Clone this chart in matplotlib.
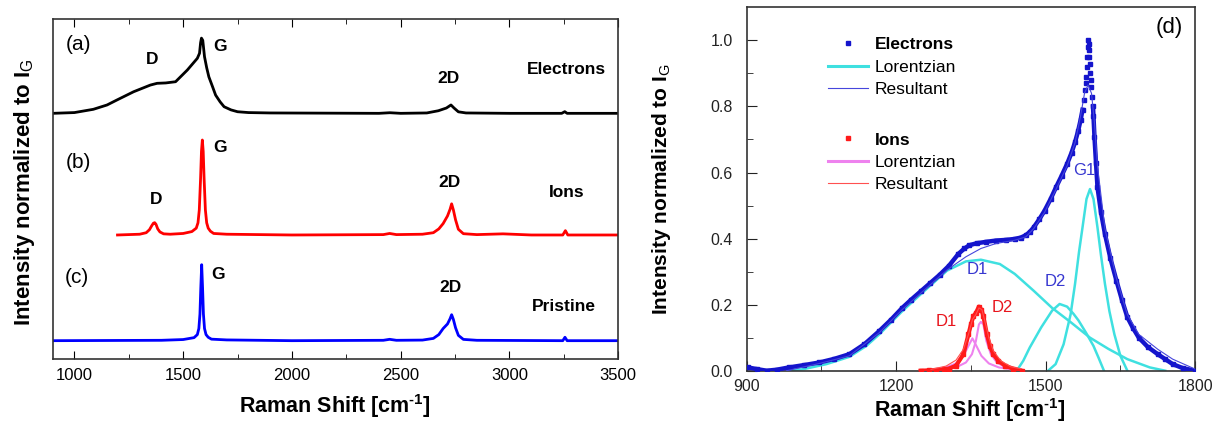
import numpy as np
import matplotlib
matplotlib.use("Agg")
import matplotlib.pyplot as plt
from matplotlib.lines import Line2D

plt.rcParams['font.family'] = ['Liberation Sans', 'DejaVu Sans']
plt.rcParams['mathtext.fontset'] = 'custom'
plt.rcParams['mathtext.rm'] = 'Liberation Sans'
plt.rcParams['mathtext.bf'] = 'Liberation Sans:bold'

# ---- panel (a)-(c): spectra, intensity relative to each baseline ----
ELEC_X = [900, 1000, 1087, 1150, 1195, 1272, 1349, 1380, 1420, 1465, 1519, 1565, 1575,
          1580, 1584, 1590, 1598, 1608, 1618, 1635, 1649, 1670, 1688, 1720, 1750, 1800,
          1900, 2400, 2450, 2500, 2620, 2673, 2710, 2731, 2745, 2765, 2800, 3000, 3240,
          3254, 3265, 3500]
ELEC_Y = [0.0, 0.01, 0.053, 0.11, 0.175, 0.284, 0.372, 0.395, 0.40, 0.416, 0.57, 0.724, 0.79,
          0.93, 0.99, 0.96, 0.745, 0.6, 0.48, 0.35, 0.24, 0.15, 0.087, 0.045, 0.021, 0.01,
          0.005, 0.0, 0.008, 0.0, 0.005, 0.034, 0.07, 0.11, 0.07, 0.02, 0.005, 0.0, 0.0,
          0.022, 0.0, 0.0]

IONS_X = [1198, 1300, 1330, 1345, 1355, 1363, 1369, 1375, 1383, 1393, 1410, 1440, 1500,
          1540, 1560, 1568, 1574, 1580, 1584, 1588, 1592, 1596, 1602, 1608, 1615, 1625,
          1640, 1700, 2000, 2420, 2449, 2480, 2600, 2650, 2675, 2695, 2715, 2727, 2734,
          2742, 2752, 2765, 2788, 2850, 2970, 3100, 3245, 3257, 3268, 3500]
IONS_Y = [0.0, 0.01, 0.03, 0.07, 0.12, 0.155, 0.162, 0.14, 0.08, 0.04, 0.015, 0.01, 0.02,
          0.045, 0.09, 0.16, 0.33, 0.75, 1.1, 1.25, 1.1, 0.75, 0.33, 0.16, 0.09, 0.05,
          0.02, 0.01, 0.0, 0.005, 0.02, 0.005, 0.01, 0.03, 0.08, 0.15, 0.25, 0.34, 0.41,
          0.33, 0.2, 0.075, 0.017, 0.005, 0.015, 0.0, 0.0, 0.057, 0.0, 0.0]

PRIS_X = [900, 1400, 1500, 1550, 1565, 1572, 1577, 1581, 1585, 1589, 1593, 1598, 1605,
          1615, 1630, 1700, 2000, 2420, 2449, 2480, 2600, 2650, 2675, 2695, 2715, 2727,
          2734, 2742, 2752, 2765, 2788, 2850, 3245, 3255, 3265, 3500]
PRIS_Y = [0.0, 0.005, 0.015, 0.04, 0.08, 0.16, 0.35, 0.7, 1.0, 0.7, 0.35, 0.16, 0.08,
          0.045, 0.02, 0.01, 0.0, 0.005, 0.018, 0.005, 0.008, 0.03, 0.08, 0.16, 0.22, 0.29,
          0.342, 0.28, 0.17, 0.07, 0.017, 0.005, 0.0, 0.045, 0.0, 0.0]

OFFSETS = [3.237, 1.636, 0.245]

# ---- panel (d): fitting of the D/G region ----
E_DATA_X = [902, 920, 940, 960, 985, 1015, 1046, 1076, 1106, 1136, 1166, 1190, 1212, 1230,
            1249, 1268, 1287, 1306, 1325, 1337, 1347, 1362, 1380, 1400, 1420, 1438, 1450,
            1460, 1468, 1476, 1487, 1498, 1510, 1521, 1532, 1543, 1552, 1559, 1565, 1570,
            1574, 1577, 1579, 1580, 1581, 1582, 1583, 1584, 1585, 1586, 1587, 1588, 1589,
            1590, 1591, 1592, 1593, 1595, 1596, 1598, 1601, 1604, 1611, 1619, 1630, 1642,
            1653, 1664, 1675, 1687, 1705, 1725, 1740, 1755, 1775, 1800]
E_DATA_Y = [0.01, 0.005, 0.0, 0.003, 0.01, 0.017, 0.025, 0.036, 0.05, 0.08, 0.12, 0.155,
            0.19, 0.215, 0.24, 0.265, 0.29, 0.318, 0.354, 0.37, 0.38, 0.386, 0.39, 0.394,
            0.396, 0.399, 0.403, 0.41, 0.42, 0.434, 0.458, 0.485, 0.52, 0.556, 0.59, 0.626,
            0.66, 0.692, 0.725, 0.758, 0.79, 0.82, 0.85, 0.87, 0.89, 0.92, 0.95, 0.98, 1.0,
            0.99, 0.97, 0.95, 0.93, 0.9, 0.88, 0.86, 0.83, 0.8, 0.77, 0.707, 0.63, 0.556,
            0.48, 0.414, 0.34, 0.273, 0.215, 0.162, 0.13, 0.10, 0.072, 0.05, 0.035, 0.02,
            0.008, 0.0]

E_D1_X = [985, 1015, 1060, 1106, 1140, 1166, 1212, 1257, 1302, 1340, 1370, 1408, 1438,
          1476, 1513, 1551, 1589, 1626, 1664, 1709, 1740]
E_D1_Y = [0.0, 0.005, 0.02, 0.042, 0.075, 0.11, 0.18, 0.242, 0.303, 0.331, 0.336, 0.323,
          0.293, 0.242, 0.19, 0.146, 0.10, 0.066, 0.035, 0.01, 0.0]
E_D2_X = [1442, 1455, 1468, 1491, 1513, 1528, 1543, 1556, 1566, 1581, 1596, 1606, 1617]
E_D2_Y = [0.0, 0.03, 0.07, 0.131, 0.182, 0.202, 0.194, 0.172, 0.152, 0.115, 0.075, 0.04, 0.0]
E_G1_X = [1505, 1520, 1536, 1550, 1559, 1567, 1574, 1582, 1589, 1596, 1604, 1611, 1619,
          1628, 1638, 1650, 1664]
E_G1_Y = [0.0, 0.02, 0.08, 0.17, 0.263, 0.36, 0.434, 0.52, 0.55, 0.52, 0.434, 0.35, 0.263,
          0.18, 0.11, 0.045, 0.0]
E_SUM_X = [980, 1046, 1106, 1166, 1212, 1257, 1302, 1340, 1370, 1400, 1438, 1460, 1476,
           1498, 1521, 1543, 1559, 1570, 1578, 1585, 1592, 1598, 1604, 1619, 1642, 1664,
           1687, 1725, 1755, 1800]
E_SUM_Y = [0.0, 0.022, 0.045, 0.115, 0.185, 0.245, 0.305, 0.345, 0.37, 0.385, 0.395, 0.405,
           0.43, 0.48, 0.55, 0.62, 0.69, 0.77, 0.84, 0.865, 0.84, 0.75, 0.62, 0.43, 0.28,
           0.17, 0.11, 0.065, 0.035, 0.005]

I_DATA_X = [1249, 1265, 1280, 1295, 1305, 1320, 1335, 1345, 1350, 1355, 1360, 1366, 1371,
            1375, 1382, 1388, 1395, 1405, 1419, 1435, 1452]
I_DATA_Y = [0.0, 0.001, 0.002, 0.004, 0.006, 0.015, 0.05, 0.11, 0.14, 0.165, 0.175, 0.194,
            0.185, 0.165, 0.11, 0.075, 0.05, 0.03, 0.015, 0.006, 0.0]
I_D1_X = [1270, 1300, 1320, 1335, 1345, 1353, 1361, 1371, 1386, 1406, 1436]
I_D1_Y = [0.003, 0.01, 0.022, 0.045, 0.075, 0.098, 0.075, 0.045, 0.022, 0.01, 0.003]
I_D2_X = [1290, 1320, 1340, 1352, 1360, 1366, 1370, 1375, 1381, 1390, 1402, 1420, 1450]
I_D2_Y = [0.004, 0.01, 0.025, 0.05, 0.09, 0.14, 0.148, 0.14, 0.09, 0.05, 0.025, 0.01, 0.004]
I_SUM_X = [1270, 1300, 1320, 1335, 1345, 1353, 1360, 1366, 1372, 1378, 1386, 1395, 1410,
           1430, 1450]
I_SUM_Y = [0.004, 0.014, 0.032, 0.065, 0.11, 0.155, 0.17, 0.19, 0.185, 0.15, 0.1, 0.06,
           0.03, 0.012, 0.006]

XLABEL = 'Raman Shift [cm$^{\\bf \u2010 1}$]'
YLABEL = 'Intensity normalized to I$_{\\rm G}$'

fig = plt.figure(figsize=(12.25, 4.23), dpi=100)
ax1 = fig.add_axes([0.043, 0.1506, 0.4617, 0.8044])
ax2 = fig.add_axes([0.6096, 0.1236, 0.366, 0.859])

# ---------- left panel ----------
for xs, ys, off, col in [(ELEC_X, ELEC_Y, OFFSETS[0], 'black'),
                         (IONS_X, IONS_Y, OFFSETS[1], '#ff0000'),
                         (PRIS_X, PRIS_Y, OFFSETS[2], '#0000ff')]:
    ax1.plot(xs, np.array(ys) + off, color=col, lw=2.0, solid_joinstyle='round')

ax1.set_xlim(900, 3500)
ax1.set_ylim(0, 4.478)
ax1.set_xticks([1000, 1500, 2000, 2500, 3000, 3500])
ax1.set_xticks([1250, 1750, 2250, 2750, 3250], minor=True)
ax1.set_yticks([])
ax1.tick_params(axis='x', which='both', direction='in', top=True, labelsize=12, pad=6)
ax1.tick_params(axis='x', which='major', length=6)
ax1.tick_params(axis='x', which='minor', length=3.5)
for s in ax1.spines.values():
    s.set_color('#333333')
    s.set_linewidth(1.2)

bold = dict(fontsize=12.5, fontweight='bold', ha='center', va='center')
ax1.text(1017, 4.14, '(a)', fontsize=15, ha='center', va='center')
ax1.text(1358, 3.94, 'D', **bold)
ax1.text(1668, 4.11, 'G', **bold)
ax1.text(2720, 3.69, '2D', **bold)
ax1.text(3261, 3.82, 'Electrons', **bold)
ax1.text(1017, 2.59, '(b)', fontsize=15, ha='center', va='center')
ax1.text(1668, 2.79, 'G', **bold)
ax1.text(1377, 2.10, 'D', **bold)
ax1.text(2722, 2.33, '2D', **bold)
ax1.text(3264, 2.20, 'Ions', **bold)
ax1.text(1012, 1.08, '(c)', fontsize=15, ha='center', va='center')
ax1.text(1659, 1.12, 'G', **bold)
ax1.text(2730, 0.95, '2D', **bold)
ax1.text(3250, 0.69, 'Pristine', **bold)

ax1.set_xlabel(XLABEL, fontsize=15.5, fontweight='bold')
ax1.set_ylabel(YLABEL, fontsize=16, fontweight='bold')
ax1.xaxis.set_label_coords(0.499, -0.095)
ax1.yaxis.set_label_coords(-0.027, 0.49)

# ---------- right panel ----------
ax2.plot(E_D1_X, E_D1_Y, color='#3fe0e0', lw=1.8, zorder=2)
ax2.plot(E_D2_X, E_D2_Y, color='#3fe0e0', lw=1.8, zorder=2)
ax2.plot(E_G1_X, E_G1_Y, color='#3fe0e0', lw=1.8, zorder=2)
ey = np.array(E_DATA_Y)
ax2.plot(E_DATA_X, np.where(ey > 0.8, np.nan, ey), color='#1414cc', lw=3.2, zorder=3)
ax2.plot(E_DATA_X, E_DATA_Y, ls='none', marker='s', ms=3, color='#1414cc',
         mec='#1414cc', zorder=3)
ax2.plot(E_SUM_X, E_SUM_Y, color='#4646dc', lw=0.8, zorder=4)

ax2.plot(I_D1_X, I_D1_Y, color='#ee82ee', lw=1.5, zorder=5)
ax2.plot(I_D2_X, I_D2_Y, color='#ee82ee', lw=1.5, zorder=5)
ax2.plot(I_DATA_X, I_DATA_Y, color='#ff1a1a', lw=3.0, zorder=6)
ax2.plot(I_DATA_X, I_DATA_Y, ls='none', marker='s', ms=2.6, color='#ff1a1a', zorder=6)
ax2.plot(I_SUM_X, I_SUM_Y, color='#ff5050', lw=0.8, zorder=7)

ax2.set_xlim(900, 1800)
ax2.set_ylim(0, 1.1)
ax2.set_xticks([900, 1200, 1500, 1800])
ax2.set_xticks([1050, 1350, 1650], minor=True)
ax2.set_yticks([0.0, 0.2, 0.4, 0.6, 0.8, 1.0])
ax2.set_yticks([0.1, 0.3, 0.5, 0.7, 0.9], minor=True)
ax2.set_yticklabels(['0.0', '0.2', '0.4', '0.6', '0.8', '1.0'])
ax2.tick_params(which='both', direction='in', labelsize=11.5, colors='#222222')
ax2.tick_params(axis='y', which='both', pad=10)
ax2.tick_params(axis='x', which='both', pad=6)
ax2.tick_params(which='major', length=7)
ax2.tick_params(which='minor', length=4)
for s in ax2.spines.values():
    s.set_color('#333333')
    s.set_linewidth(1.2)

lab_b = dict(fontsize=12, color='#3737d0', ha='center', va='center')
lab_r = dict(fontsize=12, color='#e8141c', ha='center', va='center')
ax2.text(1363, 0.305, 'D1', **lab_b)
ax2.text(1519, 0.269, 'D2', **lab_b)
ax2.text(1577, 0.606, 'G1', **lab_b)
ax2.text(1300, 0.148, 'D1', **lab_r)
ax2.text(1412, 0.19, 'D2', **lab_r)
ax2.text(1748, 1.038, '(d)', fontsize=16, ha='center', va='center')

h_e = [Line2D([], [], ls='none', marker='s', ms=3.5, color='#1414cc'),
       Line2D([], [], color='#3fe0e0', lw=2.2),
       Line2D([], [], color='#4646dc', lw=0.8)]
h_i = [Line2D([], [], ls='none', marker='s', ms=3.5, color='#ff1a1a'),
       Line2D([], [], color='#ee82ee', lw=2.2),
       Line2D([], [], color='#ff5050', lw=0.8)]
leg_kw = dict(loc='upper left', frameon=False, fontsize=12.5, handlelength=2.3,
              handletextpad=0.4, labelspacing=0.42, borderpad=0, borderaxespad=0)
leg1 = ax2.legend(h_e, ['Electrons', 'Lorentzian', 'Resultant'],
                  bbox_to_anchor=(0.181, 0.918), **leg_kw)
leg1.get_texts()[0].set_fontweight('bold')
ax2.add_artist(leg1)
leg2 = ax2.legend(h_i, ['Ions', 'Lorentzian', 'Resultant'],
                  bbox_to_anchor=(0.181, 0.656), **leg_kw)
leg2.get_texts()[0].set_fontweight('bold')

ax2.set_xlabel(XLABEL, fontsize=15.5, fontweight='bold')
ax2.set_ylabel(YLABEL, fontsize=15, fontweight='bold')
ax2.xaxis.set_label_coords(0.498, -0.07)
ax2.yaxis.set_label_coords(-0.165, 0.5)

fig.savefig('out.png', dpi=100)
